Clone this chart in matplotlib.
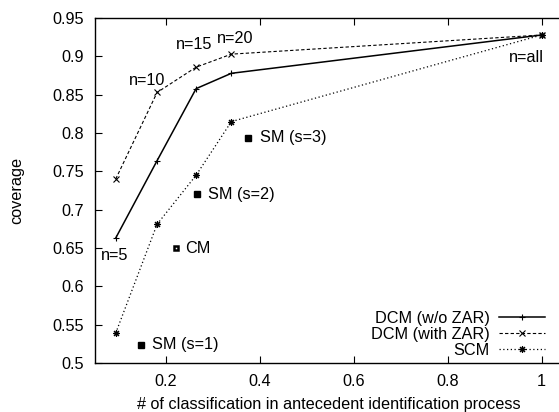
import matplotlib
matplotlib.use('Agg')
import matplotlib.pyplot as plt

plt.rcParams['font.family'] = ['Liberation Sans', 'DejaVu Sans']

# ratio of classifications for n=5, 10, 15, 20, all
x_n = [0.094, 0.182, 0.265, 0.340, 1.0]
dcm_wo_zar = [0.663, 0.764, 0.858, 0.878, 0.928]
dcm_with_zar = [0.740, 0.853, 0.886, 0.903, 0.928]
scm = [0.539, 0.681, 0.745, 0.815, 0.928]

sm_names = ['SM (s=1)', 'SM (s=2)', 'SM (s=3)']
sm_x = [0.147, 0.267, 0.376]
sm_y = [0.524, 0.720, 0.794]

cm_x = [0.223]
cm_y = [0.650]

n_labels = ['n=5', 'n=10', 'n=15', 'n=20', 'n=all']

xticks = [0.2, 0.4, 0.6, 0.8, 1.0]
xtick_labels = ['0.2', '0.4', '0.6', '0.8', '1']
yticks = [0.5, 0.55, 0.6, 0.65, 0.7, 0.75, 0.8, 0.85, 0.9, 0.95]
ytick_labels = ['0.5', '0.55', '0.6', '0.65', '0.7', '0.75', '0.8', '0.85', '0.9', '0.95']

fig = plt.figure(figsize=(5.59, 4.12), dpi=100)
# the plot box runs past the right edge of the image
ax = fig.add_axes([0.170, 0.119, 0.841, 0.837])

ax.plot(x_n, dcm_wo_zar, color='black', linestyle='-', lw=1.1,
        marker='+', ms=5, mew=0.8, label='DCM (w/o ZAR)')
ax.plot(x_n, dcm_with_zar, color='black', linestyle=(0, (3, 2)), lw=0.8,
        marker='x', ms=4, mew=0.8, label='DCM (with ZAR)')
ax.plot(x_n, scm, color='black', linestyle=(0, (1, 2)), lw=0.9,
        marker=(8, 2, 0), ms=5, mew=0.8, label='SCM')

ax.plot(sm_x, sm_y, linestyle='none', marker='s', ms=5, color='black')
ax.plot(cm_x, cm_y, linestyle='none', marker='s', ms=3.5, mfc='white',
        mec='black', mew=1.8)

fs = 11.7
for name, x, y in zip(sm_names, sm_x, sm_y):
    ax.text(x + 0.024, y, name, fontsize=fs, va='center', ha='left')
ax.text(cm_x[0] + 0.018, cm_y[0], 'CM', fontsize=fs, va='center', ha='left')

# n= annotations
ax.text(0.062, 0.640, n_labels[0], fontsize=fs, ha='left', va='center')
ax.text(0.160, 0.869, n_labels[1], fontsize=fs, ha='center', va='center')
ax.text(0.261, 0.915, n_labels[2], fontsize=fs, ha='center', va='center')
ax.text(0.349, 0.924, n_labels[3], fontsize=fs, ha='center', va='center')
ax.text(0.967, 0.899, n_labels[4], fontsize=fs, ha='center', va='center')

ax.set_xlim(0.05, 1.05)
ax.set_ylim(0.5, 0.95)
ax.set_xticks(xticks)
ax.set_xticklabels(xtick_labels)
ax.set_yticks(yticks)
ax.set_yticklabels(ytick_labels)
ax.tick_params(direction='in', length=5, width=0.8, top=True, right=False,
               labelsize=fs, pad=8)
for s in ax.spines.values():
    s.set_linewidth(1.0)

ax.set_xlabel('# of classification in antecedent identification process', fontsize=fs)
ax.xaxis.set_label_coords(0.498, -0.1)
ax.set_ylabel('coverage', fontsize=fs, labelpad=20)

ax.legend(loc='lower right', bbox_to_anchor=(0.957, 0.015), frameon=False,
          markerfirst=False, fontsize=fs, handlelength=2.8, handletextpad=0.6,
          labelspacing=0.05, borderaxespad=0, borderpad=0)

fig.savefig('out.png', dpi=100)
